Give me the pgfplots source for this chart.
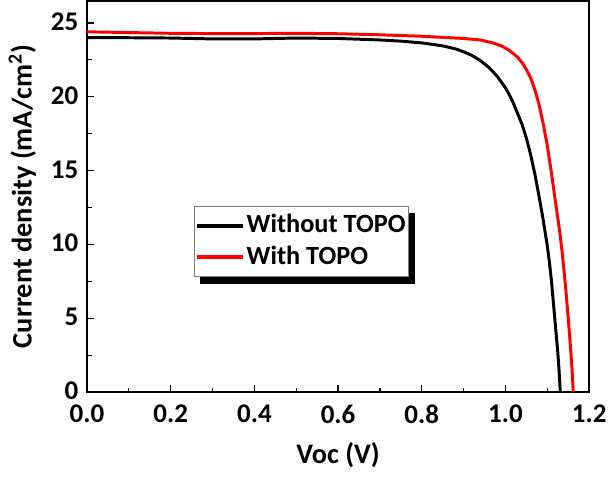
\documentclass[border=0pt]{standalone}
\usepackage{pgfplots}
\pgfplotsset{compat=1.18}
\usepackage{fontspec}
\setmainfont{Carlito}
\usetikzlibrary{backgrounds}
\begin{document}
\fontsize{19pt}{22pt}\selectfont\bfseries
\begin{tikzpicture}
\begin{axis}[
  scale only axis,
  width=372pt, height=290pt,
  xmin=0, xmax=1.2, ymin=0, ymax=26.5,
  xtick={0,0.2,...,1.2},
  ytick={0,5,...,25},
  minor x tick num=1,
  minor y tick num=1,
  tick align=inside,
  xtick pos=bottom, ytick pos=left,
  major tick length=5.5pt, minor tick length=3.5pt,
  axis line style={line width=1.2pt},
  tick style={line width=0.9pt, black},
  /pgf/number format/assume math mode=true,
  xticklabel={\pgfmathprintnumber[fixed,fixed zerofill,precision=1]{\tick}},
  yticklabel={\pgfmathprintnumber[fixed,precision=0]{\tick}},
  ticklabel style={font=\fontsize{20pt}{23pt}\selectfont\bfseries},
  xticklabel style={yshift=-3pt},
  yticklabel style={xshift=0pt, yshift=1pt},
  xlabel={Voc (V)},
  ylabel={Current density (mA/cm$^{\mathbf{2}}$)},
  label style={font=\fontsize{21pt}{24pt}\selectfont\bfseries},
  xlabel style={yshift=-1pt},
  ylabel style={yshift=-2pt},
  legend style={name=leg, at={(axis cs:0.255,7.8)}, anchor=south west, draw=gray, line width=0.6pt,
    fill=white,
    font=\fontsize{19.5pt}{22pt}\selectfont\bfseries, row sep=3pt, inner xsep=1pt, inner ysep=4pt,
    nodes={inner xsep=1pt}},
  legend cell align=left,
  legend image code/.code={\draw[#1, line width=2.8pt] (0cm,0cm) -- (1.2cm,0cm);},
]
\addplot[black, line width=2.2pt] coordinates {
(0,24.0) (0.1,24.0) (0.2,23.98) (0.3,23.92) (0.4,23.92) (0.5,23.98) (0.6,23.95) (0.7,23.85) (0.75,23.77) (0.8,23.65)
(0.85,23.45) (0.88,23.25) (0.9,23.05) (0.92,22.8) (0.94,22.45) (0.96,22.0) (0.98,21.4) (0.99,21.0) (1.0,20.6) (1.01,20.1) (1.02,19.5) (1.03,18.8) (1.04,18.1) (1.05,17.2)
(1.06,16.1) (1.07,14.8) (1.08,13.3) (1.09,11.7) (1.1,9.9) (1.105,8.8) (1.11,7.5) (1.115,5.9) (1.12,4.3) (1.125,2.7) (1.128,1.5) (1.131,0)
};
\addlegendentry{Without TOPO}
\addplot[red, line width=2.2pt] coordinates {
(0,24.4) (0.1,24.35) (0.2,24.3) (0.3,24.28) (0.4,24.28) (0.5,24.3) (0.6,24.27) (0.7,24.2) (0.8,24.1)
(0.9,23.95) (0.94,23.85) (0.97,23.65) (0.99,23.45) (1.0,23.3) (1.01,23.12) (1.02,22.9) (1.03,22.65) (1.04,22.3) (1.05,21.85) (1.06,21.3) (1.07,20.5) (1.08,19.5)
(1.09,18.2) (1.1,16.7) (1.11,14.8) (1.12,12.8) (1.13,10.8) (1.135,9.6) (1.14,8.2) (1.145,6.7) (1.15,5.0) (1.155,3.2) (1.159,1.6) (1.162,0)
};
\addlegendentry{With TOPO}
\end{axis}
\begin{scope}[on background layer]
\fill[black] ([xshift=5pt,yshift=-5pt]leg.south west) rectangle ([xshift=5pt,yshift=-5pt]leg.north east);
\end{scope}
\end{tikzpicture}
\end{document}
